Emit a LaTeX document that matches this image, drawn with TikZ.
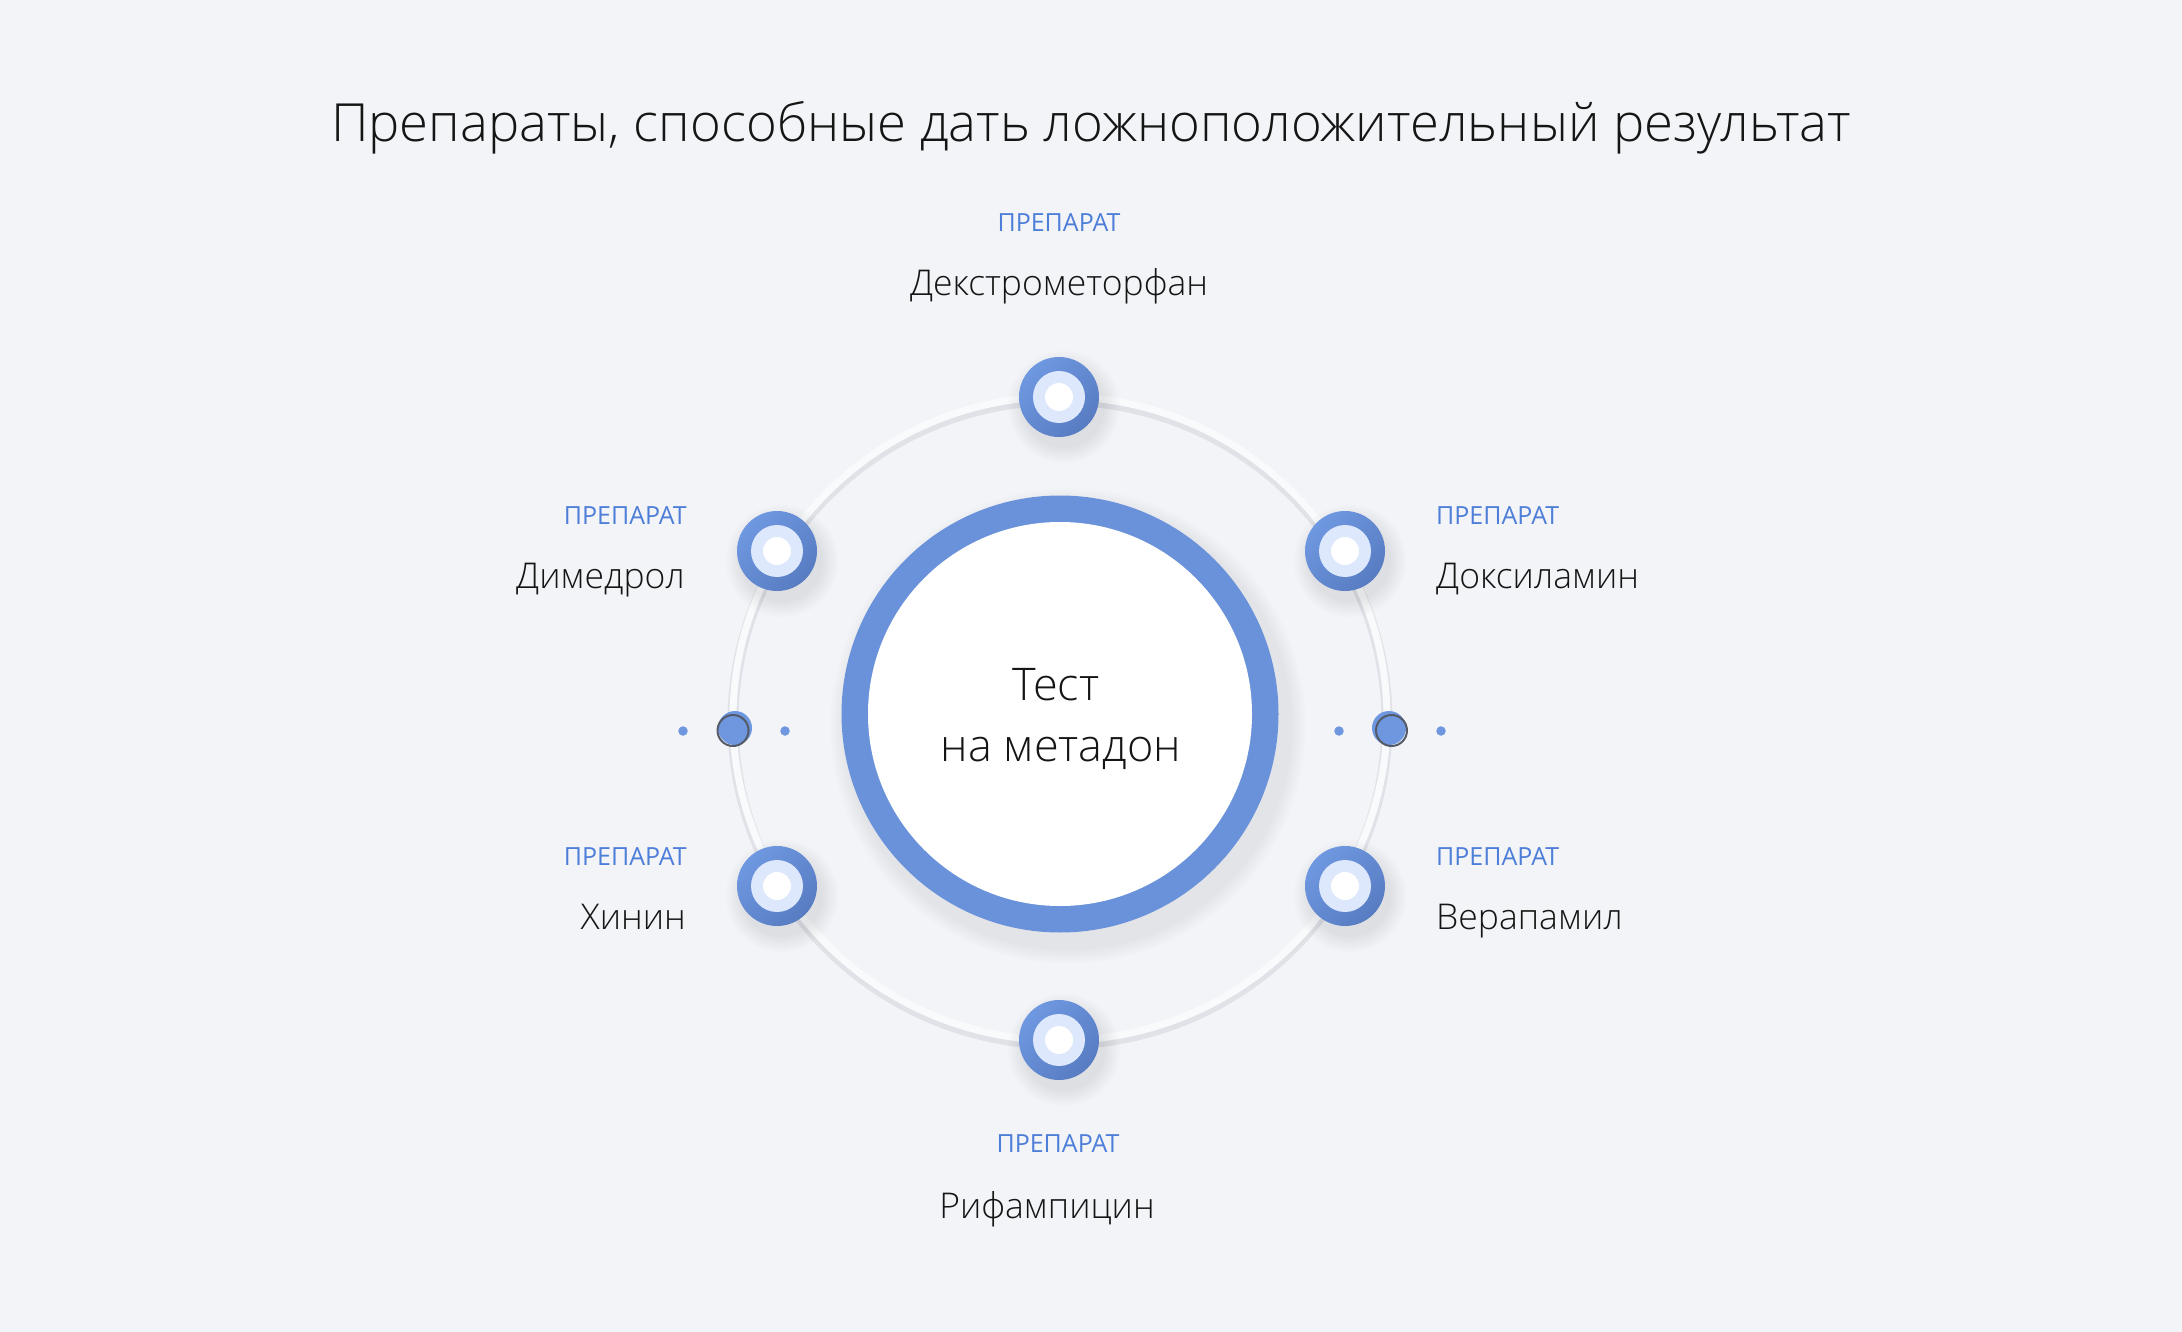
\documentclass[tikz,border=0pt]{standalone}
\usepackage{fontspec}
\setmainfont{Open Sans}
\newfontfamily\labfont{Open Sans}
\IfFontExistsTF{Open Sans Light}{\newfontfamily\thinfont{Open Sans Light}}{\newfontfamily\thinfont{Open Sans}}
\definecolor{bg}{HTML}{F3F4F8}
\definecolor{blueA}{HTML}{6E98E0}
\definecolor{blueB}{HTML}{587CC2}
\definecolor{bigblue}{HTML}{6A92DA}
\definecolor{lightin}{HTML}{DDE8FC}
\definecolor{labelblue}{HTML}{4D7ED8}
\definecolor{ringw}{HTML}{F9FAFC}
\definecolor{ringsh}{HTML}{E0E2E7}
\definecolor{handleblue}{HTML}{6E97E0}
\definecolor{handleline}{HTML}{555B66}
\definecolor{ink}{HTML}{151515}
\begin{document}
\begin{tikzpicture}[x=1pt,y=-1pt,
  outerdot/.style={circle, minimum size=80pt, inner sep=0pt, top color=blueA, bottom color=blueB, shading angle=45},
  middot/.style={circle, minimum size=52pt, inner sep=0pt, fill=lightin},
  innerdot/.style={circle, minimum size=28pt, inner sep=0pt, fill=white},
  lab/.style={inner sep=0pt, text=labelblue, font=\labfont\fontsize{25}{30}\selectfont},
  drug/.style={inner sep=0pt, text=ink, font=\thinfont\fontsize{35.5}{40}\selectfont},
  handlebox/.style={circle, minimum size=34pt, inner sep=0pt, fill=handleblue},
  handlering/.style={circle, minimum size=31pt, inner sep=0pt, draw=handleline, line width=2pt},
  smalldot/.style={circle, minimum size=9.5pt, inner sep=0pt, fill=handleblue},
]
\useasboundingbox (0,0) rectangle (2182,1332);
\fill[bg] (0,0) rectangle (2182,1332);

% title
\node[inner sep=0pt, anchor=base, text=ink, font=\thinfont\fontsize{52.6}{60}\selectfont] (title) at (1091,141.7) {Препараты, способные дать ложноположительный результат};

% orbit ring
\coordinate (ringc) at (1060,718.5);
\draw[ringsh, line width=11pt] (1060,722) ellipse [x radius=327, y radius=322];
\draw[ringw, line width=7pt] (ringc) ellipse [x radius=327, y radius=322];

% big centre circle with soft shadow
\foreach \k in {0,...,7} \fill[black, opacity=0.007] (1068,726) circle ({224+2*\k});
\node[circle, minimum size=437pt, inner sep=0pt, fill=bigblue] (centre) at (1060,714) {};
\node[circle, minimum size=384pt, inner sep=0pt, fill=white] (centrein) at (centre.center) {};
\node[inner sep=0pt, anchor=base, text=ink, font=\thinfont\fontsize{45}{50}\selectfont] (t1) at (1056,700) {Тест};
\node[inner sep=0pt, anchor=base, text=ink, font=\thinfont\fontsize{45}{50}\selectfont] (t2) at (1061,761) {на метадон};

% drug nodes
\foreach \nm/\x/\y in {top/1059/397, ul/777/551, ur/1345/551, ll/777/886, lr/1345/886, bot/1059/1040}{
  \foreach \k in {0,...,6} \fill[black, opacity=0.011] (\x+5,\y+10) circle ({56-2.5*\k});
  \node[outerdot] (\nm) at (\x,\y) {};
  \node[middot] (\nm m) at (\nm.center) {};
  \node[innerdot] (\nm i) at (\nm.center) {};
}

% side handles
\node[smalldot] (dl1) at (683,731) {};
\node[smalldot] (dl2) at (785,731) {};
\node[smalldot] (dr1) at (1339,731) {};
\node[smalldot] (dr2) at (1441,731) {};
\node[handlebox] (hl) at (735,728) {};
\node[handlering] (hlr) at (733,730.5) {};
\node[handlebox] (hr) at (1389,728) {};
\node[handlering] (hrr) at (1391.5,730.5) {};

% labels
\node[lab, anchor=base] (ltop) at (1059,232) {ПРЕПАРАТ};
\node[drug, anchor=base] (ntop) at (1059,296) {Декстрометорфан};
\node[lab, anchor=base east] (lul) at (687,524.5) {ПРЕПАРАТ};
\node[drug, anchor=base east] (nul) at (685,588.5) {Димедрол};
\node[lab, anchor=base west] (lur) at (1436,524.5) {ПРЕПАРАТ};
\node[drug, anchor=base west] (nur) at (1436,588.5) {Доксиламин};
\node[lab, anchor=base east] (lll) at (687,865.5) {ПРЕПАРАТ};
\node[drug, anchor=base east] (nll) at (686,929.5) {Хинин};
\node[lab, anchor=base west] (llr) at (1436,865.5) {ПРЕПАРАТ};
\node[drug, anchor=base west] (nlr) at (1436,929.5) {Верапамил};
\node[lab, anchor=base] (lbot) at (1058,1152) {ПРЕПАРАТ};
\node[drug, anchor=base] (nbot) at (1047,1218) {Рифампицин};
\end{tikzpicture}
\end{document}
